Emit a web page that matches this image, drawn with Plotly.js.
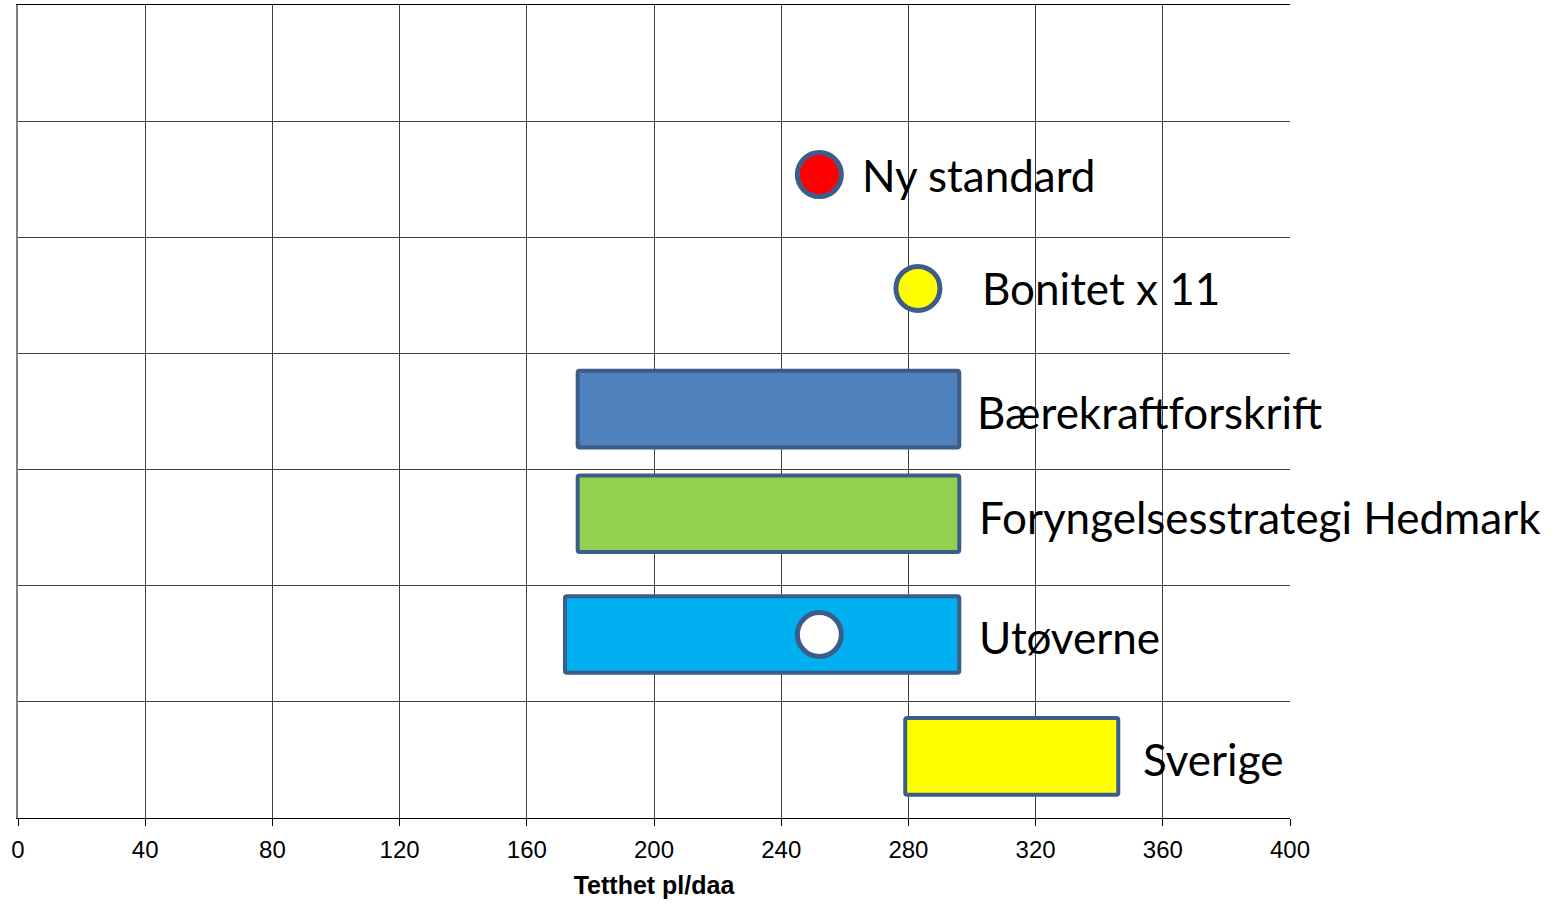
<!DOCTYPE html>
<html>
<head>
<meta charset="utf-8">
<script src="https://cdn.plot.ly/plotly-3.0.1.min.js"></script>
<style>html,body{margin:0;padding:0;background:#fff;}#chart{width:1562px;height:903px;}</style>
</head>
<body>
<div id="chart"></div>
<script>
// Range categories (bars)
const barNames = ["Bærekraftforskrift", "Foryngelsesstrategi Hedmark", "Utøverne", "Sverige"];
const barStart = [176, 176, 172, 279];
const barEnd   = [296, 296, 296, 346];
const barRow   = [3.52, 2.62, 1.58, 0.53];
const barColors = ["#4F81BD", "#92D050", "#00B0F0", "#FFFF00"];

// Point categories (dots)
const dotNames = ["Ny standard", "Bonitet x 11", ""];
const dotValue = [252, 283, 252];
const dotRow   = [5.54, 4.56, 1.58];
const dotColors = ["#FF0000", "#FFFF00", "#FFFFFF"];

const xTicks = [0, 40, 80, 120, 160, 200, 240, 280, 320, 360, 400];

const edge = "#3C5D8A";

const traces = [];
traces.push({
  type: "bar", orientation: "h",
  y: barRow,
  x: barEnd.map((e, i) => e - barStart[i]),
  base: barStart,
  width: 0.66,
  marker: {color: barColors, line: {color: edge, width: 4}, cornerradius: 2},
  hoverinfo: "skip", showlegend: false
});
traces.push({
  type: "scatter", mode: "markers",
  x: dotValue, y: dotRow,
  marker: {size: 44, color: dotColors, line: {color: edge, width: 5}},
  hoverinfo: "skip", showlegend: false
});

const labelFont = {family: "Lato, 'Open Sans', sans-serif", size: 44, color: "#000"};
const annotations = [];
const barShift = [16, 18, 18, 23];
barNames.forEach((n, i) => {
  annotations.push({x: barEnd[i], y: barRow[i], xref: "x", yref: "y", text: n,
    showarrow: false, xanchor: "left", yanchor: "middle", xshift: barShift[i], yshift: -3, font: labelFont});
});
const dotShift = [41, 62];
[0, 1].forEach(i => {
  annotations.push({x: dotValue[i], y: dotRow[i], xref: "x", yref: "y", text: dotNames[i],
    showarrow: false, xanchor: "left", yanchor: "middle", xshift: dotShift[i], yshift: 0, font: labelFont});
});

const layout = {
  width: 1562, height: 903,
  margin: {l: 18, r: 272, t: 5, b: 85},
  paper_bgcolor: "#fff", plot_bgcolor: "#fff",
  xaxis: {
    range: [0, 400], tickvals: xTicks, ticktext: xTicks.map(String),
    showgrid: true, gridcolor: "#404040", gridwidth: 1,
    zeroline: false, showline: true, linecolor: "#000", linewidth: 1, mirror: true,
    ticks: "outside", ticklen: 7, tickcolor: "#000", ticklabelstandoff: 3,
    tickfont: {family: "Arial, 'Liberation Sans', sans-serif", size: 24, color: "#000"},
    title: {text: "<b>Tetthet pl/daa</b>", font: {family: "Arial, 'Liberation Sans', sans-serif", size: 25, color: "#000"}, standoff: 14},
    fixedrange: true
  },
  yaxis: {
    range: [0, 7], dtick: 1, tick0: 0,
    showgrid: true, gridcolor: "#404040", gridwidth: 1,
    showticklabels: false, zeroline: false,
    showline: true, linecolor: "#808080", linewidth: 2, mirror: false,
    ticks: "", fixedrange: true
  },
  annotations: annotations
};

Plotly.newPlot("chart", traces, layout, {displayModeBar: false, staticPlot: true});
</script>
</body>
</html>
